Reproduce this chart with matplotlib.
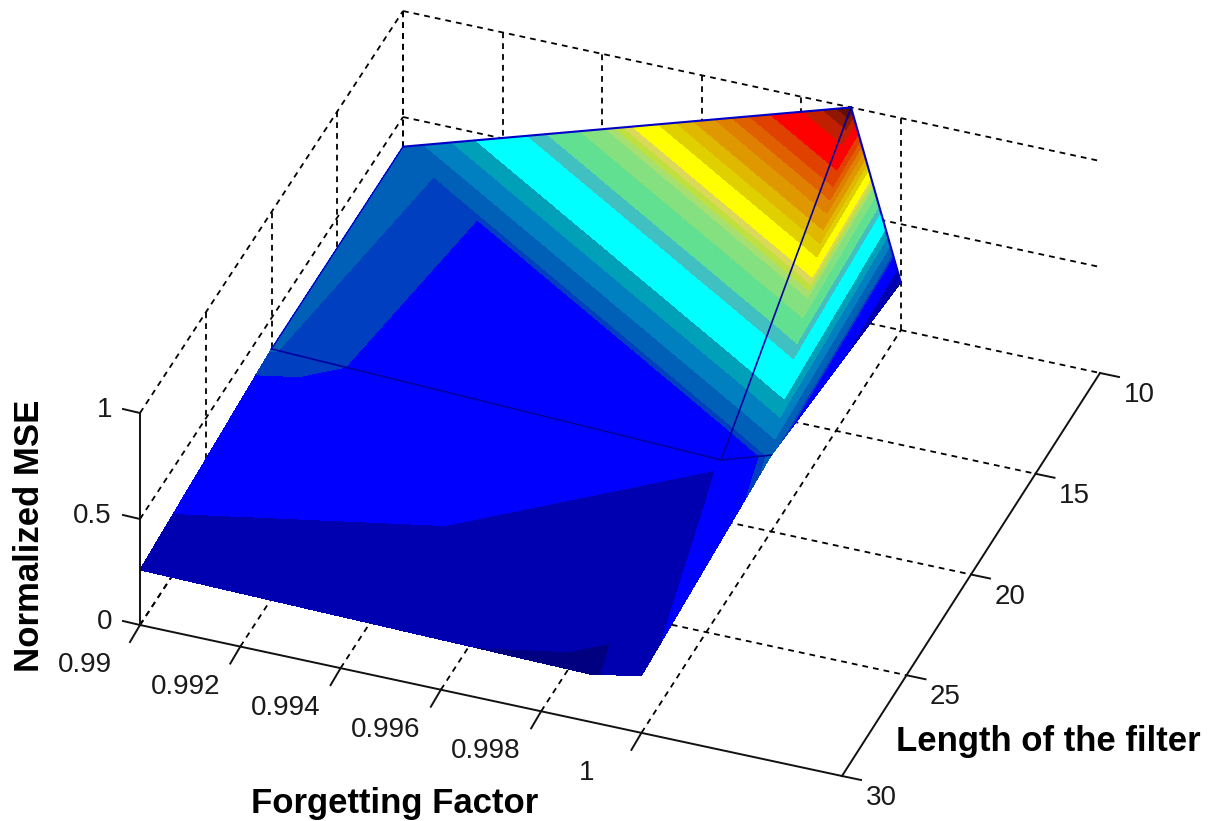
import numpy as np
import matplotlib
matplotlib.use('Agg')
import matplotlib.pyplot as plt
import matplotlib.tri as mtri

plt.rcParams['font.family'] = ['Liberation Sans', 'DejaVu Sans']

# surface nodes
forgetting = [0.99, 0.999, 1.0]
filter_len = [10, 20, 30]
mse_row10 = [0.36, 1.0, 0.225]
mse_row20 = [0.354, 0.287, 0.36]
mse_row30 = [0.26, 0.225, 0.27]

x_ticks = [0.99, 0.992, 0.994, 0.996, 0.998, 1.0]
x_labels = ['0.99', '0.992', '0.994', '0.996', '0.998', '1']
y_ticks = [10, 15, 20, 25, 30]
z_ticks = [0, 0.5, 1]
z_labels = ['0', '0.5', '1']

# colour bands of the surface
band_levels = [0, 0.234, 0.284, 0.343, 0.353, 0.39, 0.43, 0.464, 0.538, 0.566, 0.613,
               0.65, 0.663, 0.675, 0.688, 0.725, 0.75, 0.775, 0.805, 0.83, 0.855, 0.885,
               0.932, 0.96, 0.98, 1.01]
band_colors = ['#000080', '#0000b0', '#0000ff', '#0040c0', '#0060b8', '#0080c0', '#00a0b8',
               '#00ffff', '#40c0c0', '#60e090', '#85e080', '#a8e070', '#c0e040', '#dcd858',
               '#ffff00', '#e0d000', '#e0b800', '#e09800', '#e08000', '#e06000', '#e04000',
               '#ff0000', '#c02000', '#901800', '#601000']

X_MIN, X_MAX = 0.99, 1.004
Y_FRONT, Y_BACK = 30, 10


def project(x, y, z):
    # box corners measured in pixels, slight skew between front and back
    a = (np.asarray(x, dtype=float) - X_MIN) / (X_MAX - X_MIN)
    b = (Y_FRONT - np.asarray(y, dtype=float)) / (Y_FRONT - Y_BACK)
    sx = 140 + 702 * a + (263 - 5 * a) * b
    sy = 625 + 151 * a - (402 + a) * b - 212 * np.asarray(z, dtype=float)
    return sx, sy


def line3d(ax, p0, p1, **kw):
    sx, sy = project([p0[0], p1[0]], [p0[1], p1[1]], [p0[2], p1[2]])
    ax.plot(sx, sy, **kw)


fig = plt.figure(figsize=(12.12, 8.21), dpi=100)
ax = fig.add_axes([0, 0, 1, 1])
ax.set_xlim(0, 1212)
ax.set_ylim(821, 0)
ax.axis('off')

dash = dict(color='black', linewidth=1.3, linestyle=(0, (3.2, 2.8)), zorder=1)
solid = dict(color='#111111', linewidth=1.4, zorder=3)

# grid on the floor
for x in x_ticks:
    line3d(ax, (x, Y_FRONT, 0), (x, Y_BACK, 0), **dash)
for y in y_ticks[:-1]:
    line3d(ax, (X_MIN, y, 0), (X_MAX, y, 0), **dash)
# left wall
for z in z_ticks:
    line3d(ax, (X_MIN, Y_FRONT, z), (X_MIN, Y_BACK, z), **dash)
for y in y_ticks[:-1]:
    line3d(ax, (X_MIN, y, 0), (X_MIN, y, 1), **dash)
# back wall
for z in z_ticks[1:]:
    line3d(ax, (X_MIN, Y_BACK, z), (X_MAX, Y_BACK, z), **dash)
for x in x_ticks:
    line3d(ax, (x, Y_BACK, 0), (x, Y_BACK, 1), **dash)

# surface, each grid cell split in two triangles
gx, gy = np.meshgrid(forgetting, filter_len)
gz = np.array([mse_row10, mse_row20, mse_row30])
sx, sy = project(gx, gy, gz)
triangles = []
for j in range(len(filter_len) - 1):
    for i in range(len(forgetting) - 1):
        n = i + j * len(forgetting)
        m = len(forgetting)
        triangles.append([n, n + m + 1, n + m])
        triangles.append([n, n + 1, n + m + 1])
tri = mtri.Triangulation(sx.ravel(), sy.ravel(), triangles)
ax.tricontourf(tri, gz.ravel(), levels=band_levels, colors=band_colors, zorder=2)

# visible mesh lines and outline
edge = dict(color='#0000c8', linewidth=1.5, zorder=2.5)
mesh = dict(color='#0000a0', linewidth=1.2, zorder=2.5)
line3d(ax, (0.99, 10, mse_row10[0]), (0.999, 10, mse_row10[1]), **edge)
line3d(ax, (0.999, 10, mse_row10[1]), (1.0, 10, mse_row10[2]), **edge)
line3d(ax, (0.99, 10, mse_row10[0]), (0.99, 20, mse_row20[0]), color='#0000d0', linewidth=1.0, zorder=2.5)
line3d(ax, (0.999, 10, mse_row10[1]), (0.999, 20, mse_row20[1]), **mesh)
line3d(ax, (0.99, 20, mse_row20[0]), (0.999, 20, mse_row20[1]), **mesh)
line3d(ax, (0.999, 20, mse_row20[1]), (1.0, 20, mse_row20[2]), **mesh)

# box axes
line3d(ax, (X_MIN, Y_FRONT, 0), (X_MIN, Y_FRONT, 1), **solid)
line3d(ax, (X_MIN, Y_FRONT, 0), (X_MAX, Y_FRONT, 0), **solid)
line3d(ax, (X_MAX, Y_FRONT, 0), (X_MAX, Y_BACK, 0), **solid)

# ticks and their labels
for x, lab in zip(x_ticks, x_labels):
    px, py = project(x, Y_FRONT, 0)
    ax.plot([px, px - 10], [py, py + 17], **solid)
    ax.text(px - 55, py + 40, lab, fontsize=20, ha='center', va='center', color='#1a1a1a')
for y in y_ticks:
    px, py = project(X_MAX, y, 0)
    ax.plot([px, px + 19], [py, py + 4], **solid)
    ax.text(px + 39, py + 22, str(y), fontsize=20, ha='center', va='center', color='#1a1a1a')
for z, lab in zip(z_ticks, z_labels):
    px, py = project(X_MIN, Y_FRONT, z)
    ax.plot([px, px - 17], [py, py - 4], **solid)
    ax.text(px - 28, py - 3, lab, fontsize=20, ha='right', va='center', color='#1a1a1a')

ax.text(395, 803, 'Forgetting Factor', fontsize=25, fontweight='bold', ha='center', va='center')
ax.text(1048, 741, 'Length of the filter', fontsize=25, fontweight='bold', ha='center', va='center')
ax.text(30, 536, 'Normalized MSE', fontsize=25, fontweight='bold', rotation=90, ha='center', va='center')

fig.savefig('out.png', dpi=100)
